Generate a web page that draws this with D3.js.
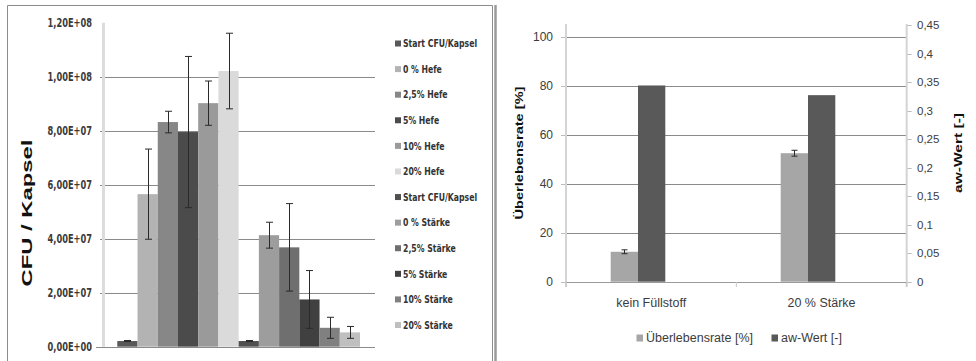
<!DOCTYPE html>
<html>
<head>
<meta charset="utf-8">
<script src="https://cdn.jsdelivr.net/npm/d3@7"></script>
<style>
  html, body { margin: 0; padding: 0; background: #fff; }
  svg { display: block; }
</style>
</head>
<body>
<svg id="chart" width="976" height="361"></svg>
<script>
// ---------- Left chart data ----------
const leftSeries = ["Start CFU/Kapsel", "0 % Hefe", "2,5% Hefe", "5% Hefe", "10% Hefe", "20% Hefe",
                    "Start CFU/Kapsel", "0 % Stärke", "2,5% Stärke", "5% Stärke", "10% Stärke", "20% Stärke"];
const leftValues = [2.1e6, 5.65e7, 8.32e7, 7.95e7, 9.02e7, 1.021e8,
                    2.1e6, 4.13e7, 3.68e7, 1.75e7, 7.0e6, 5.3e6];
const leftErrors = [0.2e6, 1.67e7, 4.0e6, 2.8e7, 8.2e6, 1.4e7,
                    0.2e6, 4.8e6, 1.62e7, 1.07e7, 3.9e6, 2.2e6];
const leftColors = ["#595959", "#b3b3b3", "#878787", "#4b4b4b", "#9a9a9a", "#dadada",
                    "#505050", "#9d9d9d", "#6f6f6f", "#404040", "#808080", "#bfbfbf"];
const leftTicks = [0, 2e7, 4e7, 6e7, 8e7, 1e8, 1.2e8];
const leftTickLabels = ["0,00E+00", "2,00E+07", "4,00E+07", "6,00E+07", "8,00E+07", "1,00E+08", "1,20E+08"];

// ---------- Right chart data ----------
const rightCategories = ["kein Füllstoff", "20 % Stärke"];
const survivalRate = [12.2, 52.4];
const survivalError = [0.8, 1.2];
const awValue = [0.344, 0.327];
const rightLeftTicks = [0, 20, 40, 60, 80, 100];
const rightRightTicks = [0, 0.05, 0.1, 0.15, 0.2, 0.25, 0.3, 0.35, 0.4, 0.45];
const rightSeriesNames = ["Überlebensrate [%]", "aw-Wert [-]"];
const rightColors = ["#a6a6a6", "#595959"];

const svg = d3.select("#chart");
const narrow = "'DejaVu Sans Condensed', 'Liberation Sans', sans-serif";
const regular = "'Liberation Sans', Arial, sans-serif";

// ---------- Panel frames ----------
svg.append("path").attr("d", "M7.5,361 V5.5 H492.5 V361")
  .attr("fill", "none").attr("stroke", "#8c8c8c").attr("stroke-width", 1);
svg.append("line").attr("x1", 495.5).attr("x2", 495.5).attr("y1", 5).attr("y2", 361)
  .attr("stroke", "#9a9a9a").attr("stroke-width", 2.5);

// ================= LEFT CHART =================
const L = { left: 103, right: 375, top: 23, bottom: 347 };
const yL = d3.scaleLinear().domain([0, 1.2e8]).range([346.7, 22.7]);
const xL = d3.scaleBand().domain(d3.range(leftSeries.length)).range([117.3, 360]).padding(0);

const gL = svg.append("g");
// gridlines
gL.append("g").selectAll("line").data(leftTicks.filter(t => t > 0 && t < 1.2e8)).join("line")
  .attr("x1", L.left - 3).attr("x2", L.right)
  .attr("y1", d => Math.round(yL(d)) + 0.5).attr("y2", d => Math.round(yL(d)) + 0.5)
  .attr("stroke", "#8a8a8a").attr("stroke-width", 1);
// baseline
gL.append("line").attr("x1", L.left - 7).attr("x2", L.right)
  .attr("y1", Math.round(yL(0)) + 0.5).attr("y2", Math.round(yL(0)) + 0.5)
  .attr("stroke", "#8a8a8a");
// vertical axis
gL.append("line").attr("x1", L.left + 0.5).attr("x2", L.left + 0.5)
  .attr("y1", yL(1.2e8)).attr("y2", yL(0))
  .attr("stroke", "#dcdcdc").attr("stroke-width", 3);
// tick labels (condensed horizontally)
gL.append("g").selectAll("text").data(leftTicks).join("text")
  .attr("transform", d => `translate(92,${yL(d)}) scale(0.8,1)`)
  .attr("dy", "0.35em")
  .attr("text-anchor", "end")
  .attr("font-family", narrow).attr("font-weight", "bold").attr("font-size", 11.5)
  .attr("fill", "#3a3a3a")
  .text((d, i) => leftTickLabels[i]);
// bars
gL.append("g").selectAll("rect").data(leftValues).join("rect")
  .attr("x", (d, i) => xL(i)).attr("width", xL.bandwidth())
  .attr("y", d => yL(d)).attr("height", d => yL(0) - yL(d))
  .attr("fill", (d, i) => leftColors[i]);
// error bars
const eL = gL.append("g").attr("stroke", "#2a2a2a").attr("stroke-width", 1);
leftValues.forEach((v, i) => {
  const cx = Math.round(xL(i) + xL.bandwidth() / 2) + 0.5;
  const y1 = yL(v + leftErrors[i]), y2 = yL(v - leftErrors[i]);
  eL.append("line").attr("x1", cx).attr("x2", cx).attr("y1", y1).attr("y2", y2);
  eL.append("line").attr("x1", cx - 3.5).attr("x2", cx + 3.5).attr("y1", y1).attr("y2", y1);
  eL.append("line").attr("x1", cx - 3.5).attr("x2", cx + 3.5).attr("y1", y2).attr("y2", y2);
});
// y title
gL.append("text").attr("transform", "translate(32,213) rotate(-90)")
  .attr("text-anchor", "middle")
  .attr("font-family", regular).attr("font-weight", "bold").attr("font-size", 15.5)
  .attr("textLength", 147).attr("lengthAdjust", "spacingAndGlyphs")
  .attr("fill", "#111").text("CFU / Kapsel");
// legend
const legL = d3.scalePoint().domain(d3.range(leftSeries.length)).range([43.5, 325]);
const lg = gL.append("g").selectAll("g").data(leftSeries).join("g")
  .attr("transform", (d, i) => `translate(395,${legL(i)})`);
lg.append("rect").attr("x", 0).attr("y", -3).attr("width", 6).attr("height", 6)
  .attr("fill", (d, i) => leftColors[i]);
lg.append("text").attr("transform", "translate(8,0) scale(0.82,1)").attr("dy", "0.35em")
  .attr("font-family", narrow).attr("font-weight", "bold").attr("font-size", 10.5)
  .attr("fill", "#333").text(d => d);

// ================= RIGHT CHART =================
const R = { left: 566, right: 906.7, top: 24, bottom: 282 };
const yR1 = d3.scaleLinear().domain([0, 100]).range([281.7, 36.5]);
const yR2 = d3.scaleLinear().domain([0, 0.45]).range([281.7, 25]);
const xCat = d3.scaleBand().domain(rightCategories).range([R.left, R.right]);
const xBar = d3.scaleBand().domain(rightCategories).range([553, 893]);
const xSub = d3.scaleBand().domain(rightSeriesNames).range([-27.3, 27.3]);

const gR = svg.append("g");
// gridlines
gR.append("g").selectAll("line").data(rightLeftTicks.filter(t => t > 0)).join("line")
  .attr("x1", R.left).attr("x2", R.right)
  .attr("y1", d => Math.round(yR1(d)) + 0.5).attr("y2", d => Math.round(yR1(d)) + 0.5)
  .attr("stroke", "#8a8a8a");
// left axis ticks
gR.append("g").selectAll("line").data(rightLeftTicks).join("line")
  .attr("x1", R.left - 5).attr("x2", R.left)
  .attr("y1", d => Math.round(yR1(d)) + 0.5).attr("y2", d => Math.round(yR1(d)) + 0.5)
  .attr("stroke", "#bdbdbd");
// right axis ticks
gR.append("g").selectAll("line").data(rightRightTicks).join("line")
  .attr("x1", R.right).attr("x2", R.right + 5)
  .attr("y1", d => Math.round(yR2(d)) + 0.5).attr("y2", d => Math.round(yR2(d)) + 0.5)
  .attr("stroke", "#bdbdbd");
// axes lines
gR.append("line").attr("x1", R.left).attr("x2", R.left).attr("y1", R.top).attr("y2", R.bottom + 5)
  .attr("stroke", "#d4d4d4").attr("stroke-width", 2);
gR.append("line").attr("x1", R.right).attr("x2", R.right).attr("y1", R.top).attr("y2", R.bottom + 5)
  .attr("stroke", "#d4d4d4").attr("stroke-width", 2);
gR.append("line").attr("x1", R.left).attr("x2", R.right)
  .attr("y1", Math.round(yR1(0)) + 0.5).attr("y2", Math.round(yR1(0)) + 0.5)
  .attr("stroke", "#9a9a9a");
// category ticks
gR.append("g").selectAll("line").data([...rightCategories, null]).join("line")
  .attr("x1", (d, i) => R.left + i * xCat.step()).attr("x2", (d, i) => R.left + i * xCat.step())
  .attr("y1", R.bottom).attr("y2", R.bottom + 5)
  .attr("stroke", "#c8c8c8");
// tick labels
gR.append("g").selectAll("text").data(rightLeftTicks).join("text")
  .attr("x", 553).attr("y", d => yR1(d)).attr("dy", "0.35em").attr("text-anchor", "end")
  .attr("font-family", regular).attr("font-size", 12).attr("fill", "#3c3c3c")
  .text(d => d);
gR.append("g").selectAll("text").data(rightRightTicks).join("text")
  .attr("x", 917).attr("y", d => yR2(d)).attr("dy", "0.35em").attr("text-anchor", "start")
  .attr("font-family", regular).attr("font-size", 11.5).attr("fill", "#3c3c3c")
  .text(d => String(d).replace(".", ","));
// category labels
gR.append("g").selectAll("text").data(rightCategories).join("text")
  .attr("x", d => xCat(d) + xCat.bandwidth() / 2).attr("y", 303).attr("dy", "0.35em")
  .attr("text-anchor", "middle")
  .attr("font-family", regular).attr("font-size", 12.5).attr("fill", "#3c3c3c")
  .text(d => d);
// bars
const barData = [];
rightCategories.forEach((c, i) => {
  barData.push({ c, s: rightSeriesNames[0], y: yR1(survivalRate[i]), base: yR1(0), color: rightColors[0] });
  barData.push({ c, s: rightSeriesNames[1], y: yR2(awValue[i]), base: yR2(0), color: rightColors[1] });
});
gR.append("g").selectAll("rect").data(barData).join("rect")
  .attr("x", d => xBar(d.c) + xBar.bandwidth() / 2 + xSub(d.s))
  .attr("width", xSub.bandwidth())
  .attr("y", d => d.y).attr("height", d => d.base - d.y)
  .attr("fill", d => d.color);
// error bars
const eR = gR.append("g").attr("stroke", "#2a2a2a").attr("stroke-width", 1);
rightCategories.forEach((c, i) => {
  const cx = Math.round(xBar(c) + xBar.bandwidth() / 2 + xSub(rightSeriesNames[0]) + xSub.bandwidth() / 2) + 0.5;
  const y1 = yR1(survivalRate[i] + survivalError[i]), y2 = yR1(survivalRate[i] - survivalError[i]);
  eR.append("line").attr("x1", cx).attr("x2", cx).attr("y1", y1).attr("y2", y2);
  eR.append("line").attr("x1", cx - 3).attr("x2", cx + 3).attr("y1", y1).attr("y2", y1);
  eR.append("line").attr("x1", cx - 3).attr("x2", cx + 3).attr("y1", y2).attr("y2", y2);
});
// axis titles
gR.append("text").attr("transform", "translate(523,153) rotate(-90)")
  .attr("text-anchor", "middle")
  .attr("font-family", regular).attr("font-weight", "bold").attr("font-size", 11)
  .attr("textLength", 133).attr("lengthAdjust", "spacingAndGlyphs")
  .attr("fill", "#111").text("Überlebensrate [%]");
gR.append("text").attr("transform", "translate(962,153) rotate(-90)")
  .attr("text-anchor", "middle")
  .attr("font-family", regular).attr("font-weight", "bold").attr("font-size", 11)
  .attr("textLength", 80).attr("lengthAdjust", "spacingAndGlyphs")
  .attr("fill", "#111").text("aw-Wert [-]");
// legend
const legR = d3.scaleOrdinal().domain(rightSeriesNames).range([636.5, 771.5]);
const lr = gR.append("g").selectAll("g").data(rightSeriesNames).join("g")
  .attr("transform", d => `translate(${legR(d)},338)`);
lr.append("rect").attr("y", -3.5).attr("width", 6.5).attr("height", 7)
  .attr("fill", (d, i) => rightColors[i]);
lr.append("text").attr("x", 9.5).attr("dy", "0.35em")
  .attr("font-family", regular).attr("font-size", 12.5).attr("fill", "#3c3c3c")
  .text(d => d);
</script>
</body>
</html>
